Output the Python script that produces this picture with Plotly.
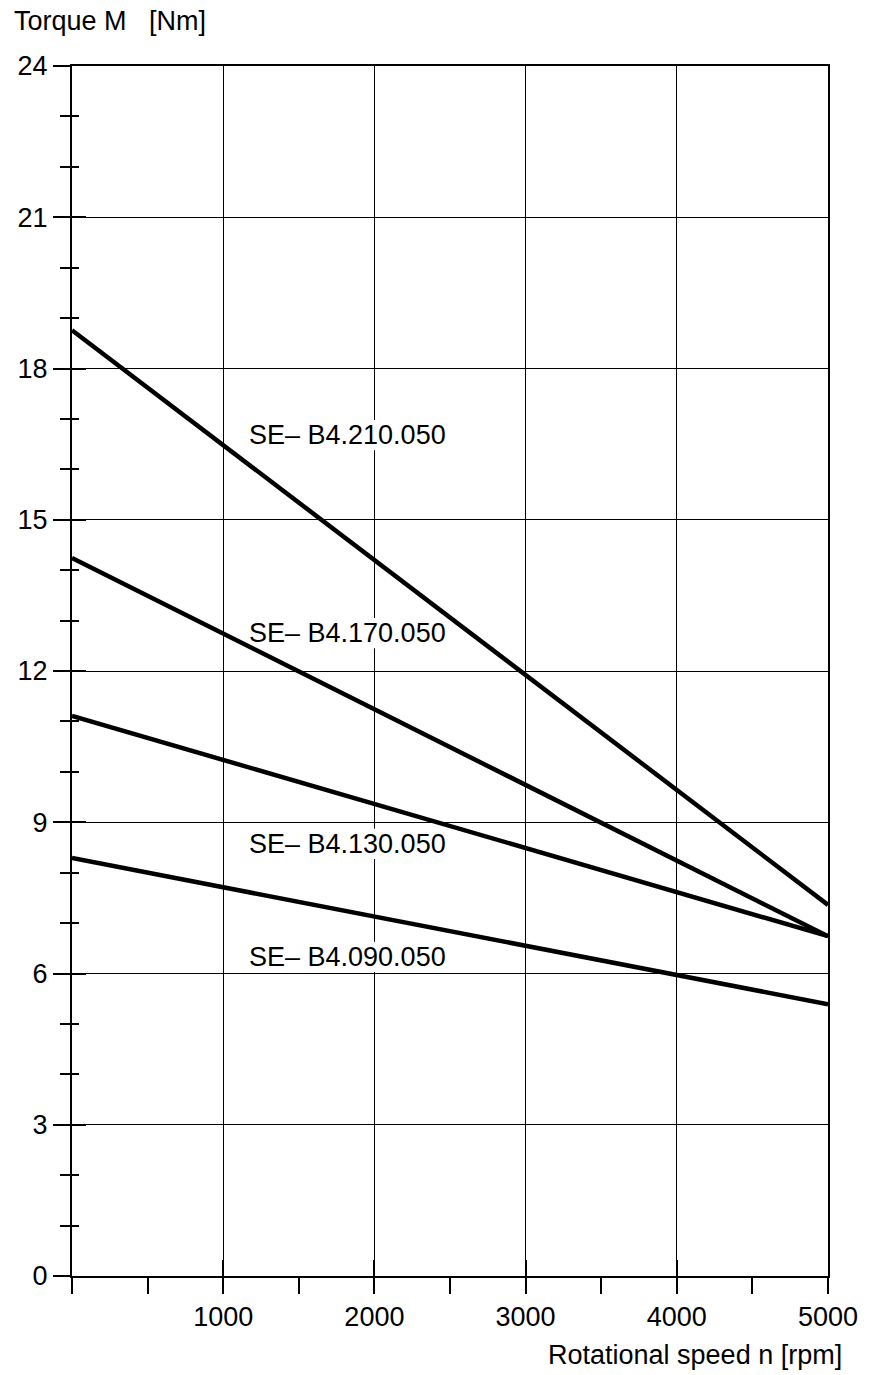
import plotly.graph_objects as go

# Rotational speed endpoints [rpm] and torque values [Nm] per motor
speed = [0, 5000]
models = ["SE\u2013 B4.210.050", "SE\u2013 B4.170.050", "SE\u2013 B4.130.050", "SE\u2013 B4.090.050"]
torque_210 = [18.76, 7.36]
torque_170 = [14.24, 6.74]
torque_130 = [11.11, 6.74]
torque_090 = [8.29, 5.39]

# Label anchor points (left edge, vertical centre) in data units
label_x = [1155, 1155, 1155, 1155]
label_y = [16.68, 12.75, 8.57, 6.33]

x_tickvals = [0, 1000, 2000, 3000, 4000, 5000]
x_ticktext = ["", "1000", "2000", "3000", "4000", "5000"]
y_tickvals = [0, 3, 6, 9, 12, 15, 18, 21, 24]

FONT = "Liberation Sans, Arial, Helvetica, sans-serif"
fsize = 27

fig = go.Figure()
for t in [torque_210, torque_170, torque_130, torque_090]:
    fig.add_trace(go.Scatter(x=speed, y=t, mode="lines",
                             line=dict(color="black", width=4.5),
                             showlegend=False, hoverinfo="skip"))

# invisible trace carrying the overlay axes (ticks that cross the frame)
fig.add_trace(go.Scatter(x=[0], y=[0], xaxis="x2", yaxis="y2", mode="markers",
                         marker=dict(opacity=0), showlegend=False, hoverinfo="skip"))

# white knock-outs behind the labels: hide gridlines but stay under the curves
LABEL_W = 1310   # approximate label width in rpm
LABEL_H = 0.30   # half height in Nm
for lx, ly in zip(label_x, label_y):
    fig.add_shape(type="rect", xref="x", yref="y",
                  x0=lx - 15, x1=lx + LABEL_W, y0=ly - LABEL_H, y1=ly + LABEL_H,
                  fillcolor="white", line=dict(width=0), layer="between")

for name, lx, ly in zip(models, label_x, label_y):
    fig.add_annotation(x=lx, y=ly, text=name, showarrow=False,
                       xanchor="left", yanchor="middle",
                       font=dict(family=FONT, size=fsize, color="black"))

fig.add_annotation(xref="paper", yref="paper", x=-0.079, y=1.037, xanchor="left",
                   yanchor="middle", text="Torque M   [Nm]", showarrow=False,
                   font=dict(family=FONT, size=fsize, color="black"))
fig.add_annotation(xref="paper", yref="paper", x=1.021, y=-0.065, xanchor="right",
                   yanchor="middle", text="Rotational speed n [rpm]", showarrow=False,
                   font=dict(family=FONT, size=fsize, color="black"))

fig.update_layout(
    width=874, height=1375,
    margin=dict(l=72, r=46, t=66, b=99),
    paper_bgcolor="white", plot_bgcolor="white",
    font=dict(family=FONT, size=fsize, color="black"),
    xaxis=dict(range=[0, 5000], tickmode="array", tickvals=x_tickvals, ticktext=x_ticktext,
               ticks="outside", ticklen=16, tickwidth=2, tickcolor="black",
               minor=dict(dtick=500, tick0=0, ticks="outside", ticklen=16, tickwidth=2,
                          tickcolor="black", showgrid=False),
               showgrid=True, gridcolor="black", gridwidth=1,
               showline=True, linecolor="black", linewidth=2, mirror=True,
               zeroline=False, fixedrange=True),
    yaxis=dict(range=[0, 24], tickmode="array", tickvals=y_tickvals,
               ticks="outside", ticklen=17, tickwidth=2, tickcolor="black",
               minor=dict(dtick=1, tick0=0, ticks="outside", ticklen=10, tickwidth=2,
                          tickcolor="black", showgrid=False),
               showgrid=True, gridcolor="black", gridwidth=1,
               showline=True, linecolor="black", linewidth=2, mirror=True,
               zeroline=False, fixedrange=True),
    xaxis2=dict(range=[0, 5000], overlaying="x", side="bottom", dtick=1000, tick0=0,
                ticks="inside", ticklen=16, tickwidth=2, tickcolor="black",
                showticklabels=False, showgrid=False, showline=False, zeroline=False),
    yaxis2=dict(range=[0, 24], overlaying="y", side="left", dtick=3, tick0=0,
                ticks="inside", ticklen=14, tickwidth=2, tickcolor="black",
                minor=dict(dtick=1, tick0=0, ticks="inside", ticklen=7, tickwidth=2,
                           tickcolor="black", showgrid=False),
                showticklabels=False, showgrid=False, showline=False, zeroline=False),
)

fig.write_html("out.html")
